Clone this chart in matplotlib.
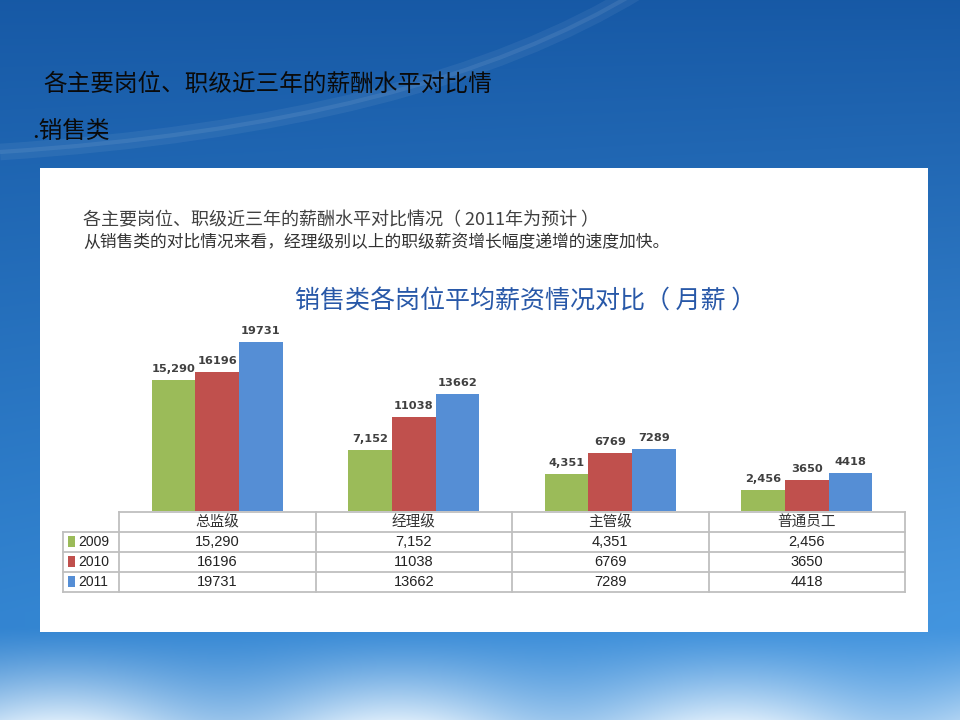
import numpy as np
import matplotlib
matplotlib.use("Agg")
import matplotlib.pyplot as plt
from matplotlib.path import Path
from matplotlib.patches import PathPatch, Rectangle

plt.rcParams['font.family'] = ['Noto Sans CJK SC', 'DejaVu Sans']

# data
categories = ['总监级', '经理级', '主管级', '普通员工']
years = ['2009', '2010', '2011']
salary_2009 = [15290, 7152, 4351, 2456]
salary_2010 = [16196, 11038, 6769, 3650]
salary_2011 = [19731, 13662, 7289, 4418]
series = [salary_2009, salary_2010, salary_2011]
label_fmt = ['{:,}', '{}', '{}']
colors = ['#9bbb59', '#c0504d', '#558ed5']

slide_title = '各主要岗位、职级近三年的薪酬水平对比情'
slide_sub = '.销售类'
panel_line1 = '各主要岗位、职级近三年的薪酬水平对比情况（ 2011年为预计 ）'
panel_line2 = '从销售类的对比情况来看，经理级别以上的职级薪资增长幅度递增的速度加快。'
chart_title = '销售类各岗位平均薪资情况对比（ 月薪 ）'

W, H = 960, 720
fig = plt.figure(figsize=(9.6, 7.2), dpi=100)

# background: blue sky gradient
bg = fig.add_axes([0, 0, 1, 1])
bg.set_xlim(0, W)
bg.set_ylim(H, 0)
bg.axis('off')
yy, xx = np.mgrid[0:H, 0:W]
t = yy / H
s = xx / W
top = np.array([0.09, 0.35, 0.65])
mid = np.array([0.20, 0.52, 0.82])
r = np.clip(t / 0.85, 0, 1)[..., None]
img = top * (1 - r) + mid * r
img = img + (0.12 * s * t)[..., None] * np.array([0.6, 0.6, 0.5])
cloud = np.clip((t - 0.87) / 0.13, 0, 1) ** 1.3
cloud = cloud * (0.6 + 0.4 * np.sin(s * 9.0 + 1.0) ** 2)
img = img * (1 - cloud[..., None]) + np.array([0.85, 0.92, 0.98]) * cloud[..., None]
bg.imshow(np.clip(img, 0, 1), extent=(0, W, H, 0), aspect='auto', zorder=0)

# faint light arc
arc = Path([(640, -10), (420, 125), (0, 152)], [Path.MOVETO, Path.CURVE3, Path.CURVE3])
bg.add_patch(PathPatch(arc, fill=False, ec='white', lw=12, alpha=0.06, zorder=1))
bg.add_patch(PathPatch(arc, fill=False, ec='white', lw=3, alpha=0.08, zorder=1))

bg.text(43, 84, slide_title, fontsize=17, color='#0a0a0a', va='center', ha='left', zorder=2)
bg.text(32, 131, slide_sub, fontsize=17, color='#0a0a0a', va='center', ha='left', zorder=2)

# white panel
bg.add_patch(Rectangle((40, 168), 888, 464, fc='white', ec='none', zorder=2))
bg.text(83, 220, panel_line1, fontsize=13, color='#404040', va='center', ha='left', zorder=3)
bg.text(83, 242, panel_line2, fontsize=12.1, color='#333333', va='center', ha='left', zorder=3)
bg.text(526, 302, chart_title, fontsize=18, color='#2858a8', va='center', ha='center', zorder=3)

# bar chart
px_left, px_right, px_top, px_base = 119, 905, 297, 511
ax = fig.add_axes([px_left / W, 1 - px_base / H, (px_right - px_left) / W, (px_base - px_top) / H])
ax.set_facecolor('none')
x = np.arange(len(categories))
bw = 0.222
for i, vals in enumerate(series):
    pos = x + (i - 1) * bw
    ax.bar(pos, vals, width=bw, color=colors[i], edgecolor='none')
    for p, v in zip(pos, vals):
        ax.text(p, v + 700, label_fmt[i].format(v), ha='center', va='bottom',
                fontsize=8.2, fontweight='bold', color='#404040', family='DejaVu Sans')
ax.set_xlim(-0.5, len(categories) - 0.5)
ax.set_ylim(0, 25000)
ax.axis('off')

# data table
col_w = (px_right - px_left) / len(categories)
legend_w = 56
tbl_top, tbl_bot = 512, 592
tx = fig.add_axes([(px_left - legend_w) / W, 1 - tbl_bot / H, (px_right - px_left + legend_w) / W, (tbl_bot - tbl_top) / H])
tx.set_xlim(-0.5 - legend_w / col_w, len(categories) - 0.5)
tx.set_ylim(4, 0)
tx.axis('off')
lc = '#bfbfbf'
lw = 1.3
xl = -0.5 - legend_w / col_w
xr = len(categories) - 0.5
tx.plot([-0.5, xr], [0, 0], color=lc, lw=lw, clip_on=False)
for k in range(1, 5):
    tx.plot([xl, xr], [k, k], color=lc, lw=lw, clip_on=False)
for k in range(len(categories) + 1):
    tx.plot([k - 0.5, k - 0.5], [0, 4], color=lc, lw=lw, clip_on=False)
tx.plot([xl, xl], [1, 4], color=lc, lw=lw, clip_on=False)
for j, c in enumerate(categories):
    tx.text(j, 0.5, c, ha='center', va='center', fontsize=10.5, color='#333333')
for i, vals in enumerate(series):
    yrow = i + 1.5
    tx.add_patch(Rectangle((xl + 5 / col_w, yrow - 0.3), 7 / col_w, 0.55, fc=colors[i], ec='none'))
    tx.text(xl + 15 / col_w, yrow, years[i], ha='left', va='center', fontsize=10,
            color='#222222', family='Liberation Sans')
    for j, v in enumerate(vals):
        tx.text(j, yrow, label_fmt[i].format(v), ha='center', va='center', fontsize=10.5,
                color='#222222', family='Liberation Sans')

fig.savefig('out.png', dpi=100)
